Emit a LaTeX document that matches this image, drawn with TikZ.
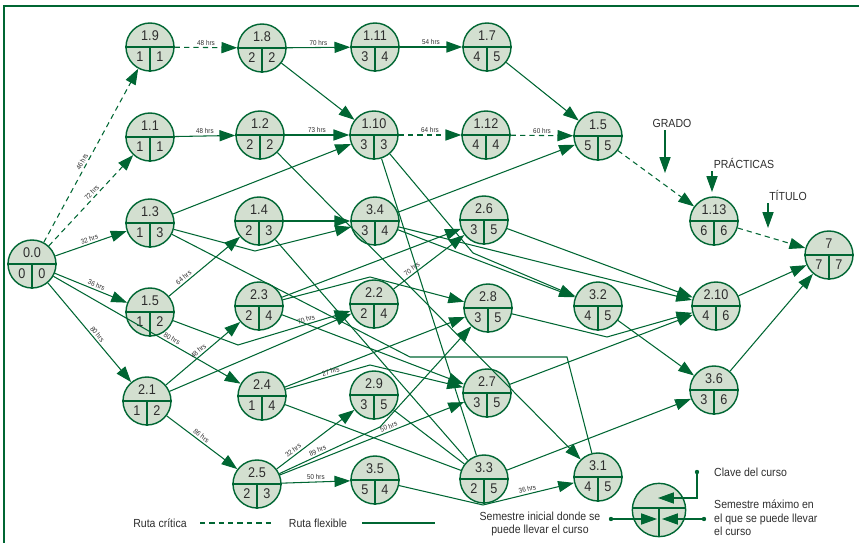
\documentclass[tikz,border=0pt]{standalone}
\usepackage{fontspec}
\setmainfont[FakeStretch=0.9]{Liberation Sans}
\usepackage{tikz}
\usetikzlibrary{arrows.meta}
\usetikzlibrary{calc}
\definecolor{verde}{RGB}{0,102,51}
\definecolor{relleno}{RGB}{211,223,208}
\definecolor{texto}{RGB}{45,45,45}
\tikzstyle{curso}=[circle,draw=verde,fill=relleno,line width=1.2pt,minimum size=1.44cm,inner sep=0pt]
\tikzstyle{clave}=[font=\fontsize{12}{12}\selectfont,text=texto,inner sep=0pt]
\tikzstyle{ruta}=[draw=verde,line width=0.9pt,-{Triangle[length=13.5pt,width=9.5pt]}]
\tikzstyle{libre}=[draw=verde,line width=0.9pt]
\tikzstyle{critica}=[ruta,dash pattern=on 4.5pt off 3.5pt]
\tikzstyle{hrs}=[font=\fontsize{6}{6}\selectfont,text=texto,sloped,above=1.5pt,inner sep=0pt]
\tikzstyle{nota}=[font=\fontsize{10}{11.5}\selectfont,text=texto,inner sep=0pt]
\newcommand{\curso}[5]{%
  \node[curso] (#1) at (#2) {};
  \draw[verde,line width=1.2pt] (#1.west) -- (#1.east) (#1.center) -- (#1.south);
  \node[clave] at ($(#1)+(0,-11)$) {#3};
  \node[clave] at ($(#1)+(-10,10)$) {#4};
  \node[clave] at ($(#1)+(10,10)$) {#5};
}

\begin{document}
\begin{tikzpicture}[x=0.03cm,y=-0.03cm]
	\useasboundingbox (0,0) rectangle (859,543);
	\draw[verde,line width=1.5pt] (4,543) -- (4,6) -- (859,6);

	% cursos
	\curso{c00}{32,264}{0.0}{0}{0}
	\curso{c19}{150,47}{1.9}{1}{1}
	\curso{c18}{262,48}{1.8}{2}{2}
	\curso{c111}{375,47}{1.11}{3}{4}
	\curso{c17}{487,47}{1.7}{4}{5}
	\curso{c11}{150,137}{1.1}{1}{1}
	\curso{c12}{260,135}{1.2}{2}{2}
	\curso{c110}{374,135}{1.10}{3}{3}
	\curso{c112}{486,135}{1.12}{4}{4}
	\curso{c15a}{598,136}{1.5}{5}{5}
	\curso{c13}{150,223}{1.3}{1}{3}
	\curso{c14}{259,221}{1.4}{2}{3}
	\curso{c34}{375,221}{3.4}{3}{4}
	\curso{c26}{484,220}{2.6}{3}{5}
	\curso{c15b}{150,312}{1.5}{1}{2}
	\curso{c23}{259,306}{2.3}{2}{4}
	\curso{c22}{374,304}{2.2}{2}{4}
	\curso{c28}{488,308}{2.8}{3}{5}
	\curso{c32}{598,306}{3.2}{4}{5}
	\curso{c210}{716,306}{2.10}{4}{6}
	\curso{c113}{714,221}{1.13}{6}{6}
	\curso{c7}{829,255}{7}{7}{7}
	\curso{c36}{714,390}{3.6}{3}{6}
	\curso{c21}{147,401}{2.1}{1}{2}
	\curso{c24}{262,396}{2.4}{1}{4}
	\curso{c29}{374,395}{2.9}{3}{5}
	\curso{c27}{487,393}{2.7}{3}{5}
	\curso{c25}{257,484}{2.5}{2}{3}
	\curso{c35}{375,480}{3.5}{5}{4}
	\curso{c33}{484,479}{3.3}{2}{5}
	\curso{c31}{598,477}{3.1}{4}{5}

	% ruta critica
	\draw[critica] (c00) -- node[hrs,pos=0.45] {46 hrs} (c19);
	\draw[critica] (c00) -- node[hrs,pos=0.55] {72 hrs} (c11);
	\draw[critica] (c19) -- node[hrs] {48 hrs} (c18);
	\draw[critica] (c110) -- node[hrs] {64 hrs} (c112);
	\draw[critica] (c112) -- node[hrs] {60 hrs} (c15a);
	\draw[critica] (c15a) -- (c113);
	\draw[critica] (c113) -- (c7);

	% rutas flexibles
	\draw[ruta] (c18) -- node[hrs] {70 hrs} (c111);
	\draw[ruta] (c111) -- node[hrs] {54 hrs} (c17);
	\draw[ruta] (c17) -- (c15a);
	\draw[ruta] (c18) -- (c110);
	\draw[ruta] (c11) -- node[hrs] {48 hrs} (c12);
	\draw[ruta] (c12) -- node[hrs] {73 hrs} (c110);
	\draw[ruta] (c13) -- (c110);
	\draw[ruta] (c34) -- (c15a);
	\draw[ruta] (c00) -- node[hrs] {32 hrs} (c13);
	\draw[ruta] (c00) -- node[hrs,pos=0.55] {36 hrs} (c15b);
	\draw[ruta] (c00) -- node[hrs,pos=0.55] {80 hrs} (c21);
	\draw[ruta] (c00) -- node[hrs,pos=0.62] {80 hrs} (c24);
	\draw[ruta] (c15b) -- node[hrs,pos=0.25] {64 hrs} (c14);
	\draw[ruta] (c14) -- (c34);
	\draw[ruta] (c13) -- (255,251) -- (c34);
	\draw[ruta] (c15b) -- (238,345) -- node[hrs,pos=0.62] {70 hrs} (c22);
	\draw[ruta] (c21) -- (c22);
	\draw[ruta] (c21) -- node[hrs,pos=0.48] {48 hrs} (c23);
	\draw[ruta] (c21) -- node[hrs,pos=0.45] {86 hrs} (c25);
	\draw[ruta] (c23) -- (c26);
	\draw[ruta] (c22) -- node[hrs,pos=0.3] {70 hrs} (c26);
	\draw[ruta] (c23) -- (370,277) -- (c28);
	\draw[ruta] (c23) -- (c27);
	\draw[ruta] (c24) -- (c28);
	\draw[ruta] (c24) -- node[hrs,pos=0.55] {27 hrs} (370,365) -- (c27);
	\draw[ruta] (c25) -- node[hrs,pos=0.25] {32 hrs} (c29);
	\draw[ruta] (c25) -- node[hrs,pos=0.4] {89 hrs} (380,427) -- (c28);
	\draw[ruta] (c25) -- node[hrs,pos=0.6] {50 hrs} (c27);
	\draw[ruta] (c25) -- node[hrs] {50 hrs} (c35);
	\draw[ruta] (c35) -- (483,505) -- node[hrs] {36 hrs} (c31);
	\draw[ruta] (c110) -- (473,253) -- (c32);
	\draw[ruta] (c34) -- (c32);
	\draw[ruta] (c34) -- (c210);
	\draw[ruta] (c26) -- (c210);
	\draw[ruta] (c28) -- (607,337) -- (c210);
	\draw[ruta] (c27) -- (c210);
	\draw[ruta] (c32) -- (c36);
	\draw[ruta] (c33) -- (c36);
	\draw[ruta] (c210) -- (c7);
	\draw[ruta] (c36) -- (c7);
	\draw[ruta] (c12) -- (c31);
	\draw[libre] (c110) -- (c33);
	\draw[libre] (c14) -- (c33);
	\draw[libre] (c24) -- (c33);
	\draw[libre] (c29) -- (c33);
	\draw[libre] (c13) -- (410,357) -- (567,357) -- (c31);

	% notas
	\node[nota] (grado) at (672,123) {GRADO};
	\node[nota] (practicas) at (744,163) {PRÁCTICAS};
	\node[nota] (titulo) at (788,195) {TÍTULO};
	\coordinate (pgrado) at (665,173);
	\coordinate (ppracticas) at (712,192);
	\coordinate (ptitulo) at (768,228);
	\draw[ruta] (grado.south -| pgrado) ++(0,3) -- (pgrado);
	\draw[ruta] (practicas.south -| ppracticas) ++(0,3) -- (ppracticas);
	\draw[ruta] (titulo.south -| ptitulo) ++(0,3) -- (ptitulo);

	% simbologia
	\node[nota] (lcritica) at (160,523) {Ruta crítica};
	\draw[libre,dash pattern=on 4.5pt off 3.5pt] (200,523) -- (273,523);
	\node[nota] (lflexible) at (318,523) {Ruta flexible};
	\draw[libre] (362,523) -- (435,523);
	\node[curso,minimum size=1.6cm] (clave) at (659,510) {};
	\draw[verde,line width=1.2pt] (clave.west) ++(0,-2) -- ($(clave.east)+(0,-2)$);
	\draw[verde,line width=1.2pt] ($(clave.center)+(0,-2)$) -- (clave.south);
	\node[nota,align=center] (lini) at (540,524) {Semestre inicial donde se\\puede llevar el curso};
	\node[nota,anchor=west] (lclave) at (714,472) {Clave del curso};
	\node[nota,anchor=west,align=left] (lmax) at (714,518) {Semestre máximo en\\el que se puede llevar\\el curso};
	\coordinate (dini) at (611,519);
	\coordinate (dmax) at (704,519);
	\coordinate (dclave) at (697,472);
	\fill[verde] (dini) circle (2.2) (dmax) circle (2.2) (dclave) circle (2.2);
	\draw[ruta] (dini) -- (657,519);
	\draw[ruta] (dmax) -- (662,519);
	\draw[ruta] (dclave) -- (697,498) -- (658,498);
\end{tikzpicture}
\end{document}
